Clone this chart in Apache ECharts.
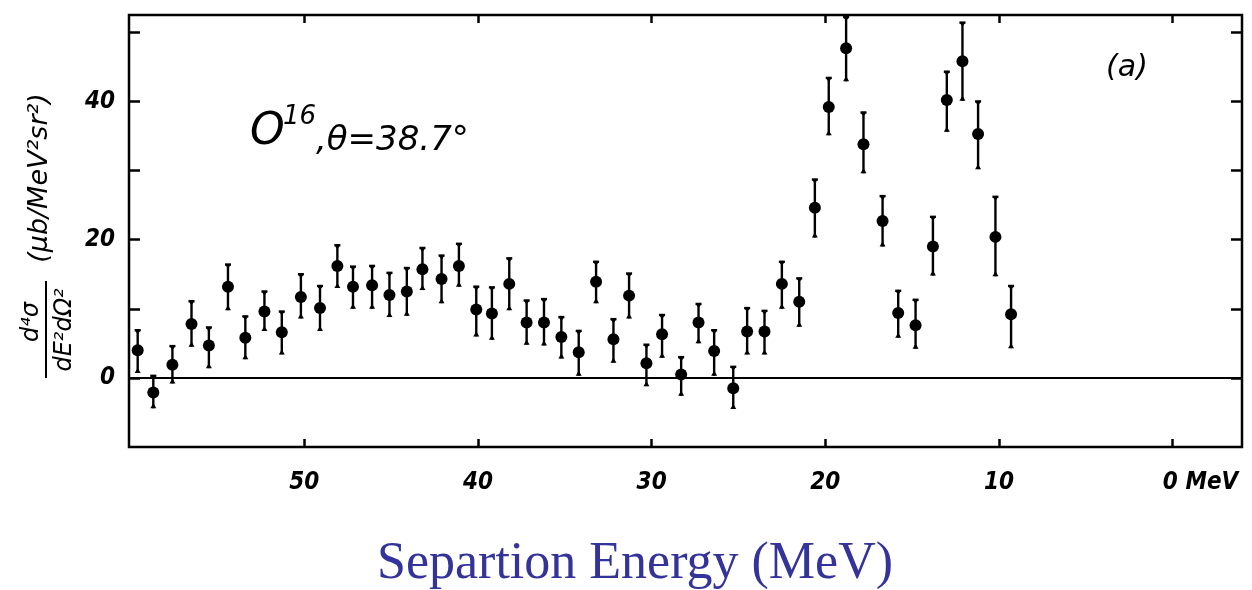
<!DOCTYPE html>
<html>
<head>
<meta charset="utf-8">
<title>O16 separation energy spectrum</title>
<script src="https://cdn.jsdelivr.net/npm/echarts@6/dist/echarts.min.js"></script>
<style>
  html, body { margin: 0; padding: 0; background: #fff; }
  #chart { width: 1252px; height: 590px; }
</style>
</head>
<body>
<div id="chart"></div>
<script>
// Separation energy (MeV) of each measured bin
const energy = [
  59.6, 58.7, 57.6, 56.5, 55.5, 54.4, 53.4, 52.3, 51.3, 50.2,
  49.1, 48.1, 47.2, 46.1, 45.1, 44.1, 43.2, 42.1, 41.1, 40.1,
  39.2, 38.2, 37.2, 36.2, 35.2, 34.2, 33.2, 32.2, 31.3, 30.3,
  29.4, 28.3, 27.3, 26.4, 25.3, 24.5, 23.5, 22.5, 21.5, 20.6,
  19.8, 18.8, 17.8, 16.7, 15.8, 14.8, 13.8, 13.0, 12.1, 11.2,
  10.2, 9.3
];
// d4sigma / dE2 dOmega2 in ub/(MeV2 sr2)
const crossSection = [
  4.0, -2.1, 1.9, 7.8, 4.7, 13.2, 5.8, 9.6, 6.6, 11.7,
  10.1, 16.2, 13.2, 13.4, 12.0, 12.5, 15.7, 14.3, 16.2, 9.9,
  9.3, 13.6, 8.0, 8.0, 5.9, 3.7, 13.9, 5.6, 11.9, 2.1,
  6.3, 0.5, 8.0, 3.9, -1.5, 6.7, 6.7, 13.6, 11.0, 24.6,
  39.2, 47.7, 33.8, 22.7, 9.4, 7.6, 19.0, 40.2, 45.8, 35.3,
  20.4, 9.2
];
// Upper end of each error bar
const errHigh = [
  6.9, 0.3, 4.6, 11.1, 7.3, 16.4, 8.9, 12.5, 9.6, 15.0,
  13.3, 19.2, 16.1, 16.2, 15.2, 15.9, 18.8, 17.7, 19.4, 13.2,
  13.1, 17.3, 11.2, 11.4, 8.8, 6.8, 16.8, 8.5, 15.1, 4.8,
  9.1, 3.0, 10.7, 6.9, 1.6, 10.1, 9.7, 16.8, 14.4, 28.7,
  43.4, 52.2, 38.4, 26.3, 12.6, 11.3, 23.3, 44.3, 51.4, 40.0,
  26.2, 13.3
];
// Lower end of each error bar
const errLow = [
  0.7, -4.4, -0.8, 4.5, 1.4, 9.8, 2.7, 6.8, 3.4, 8.6,
  6.8, 13.0, 10.0, 10.0, 8.8, 9.0, 12.7, 10.8, 13.2, 6.0,
  5.5, 9.8, 4.8, 4.7, 2.8, 0.3, 10.8, 2.2, 8.6, -1.2,
  2.9, -2.6, 5.0, 0.3, -4.5, 3.4, 3.4, 10.0, 7.4, 20.3,
  35.1, 42.9, 29.6, 19.0, 5.8, 4.2, 14.8, 35.6, 40.1, 30.2,
  14.7, 4.3
];

const xTicks = [0, 10, 20, 30, 40, 50];
const yTicks = [0, 10, 20, 30, 40, 50];
const yLabels = [0, 20, 40];

const points = energy.map((e, i) => [e, crossSection[i]]);
const bars = energy.map((e, i) => [e, errHigh[i], errLow[i]]);

const tickFont = {
  color: '#000',
  fontFamily: "'DejaVu Sans Condensed', 'DejaVu Sans', sans-serif",
  fontStyle: 'italic',
  fontWeight: 'bold',
  fontSize: 24
};
const handFont = "'DejaVu Sans', sans-serif";

const X_MIN = -4, X_MAX = 60.1, Y_MIN = -10, Y_MAX = 52.5;
const tickLine = { color: '#000', width: 2.5 };

const chart = echarts.init(document.getElementById('chart'), null, { renderer: 'canvas' });

chart.setOption({
  backgroundColor: '#fff',
  animation: false,
  grid: {
    left: 129, right: 10, top: 15, bottom: 143,
    show: true, borderColor: '#000', borderWidth: 2.5, backgroundColor: 'transparent'
  },
  xAxis: [
    {
      type: 'value', position: 'bottom', inverse: true, min: X_MIN, max: X_MAX,
      axisLine: { show: false, onZero: false },
      splitLine: { show: false },
      axisTick: { show: true, inside: true, length: 8, customValues: xTicks, lineStyle: tickLine },
      axisLabel: {
        show: true, margin: 24, customValues: xTicks, ...tickFont,
        formatter: v => (v === 0 ? '{pad|}0 MeV' : String(v)),
        rich: { pad: { width: 56 } }
      }
    },
    {
      type: 'value', position: 'top', inverse: true, min: X_MIN, max: X_MAX,
      axisLine: { show: false, onZero: false },
      splitLine: { show: false },
      axisTick: { show: true, inside: true, length: 8, customValues: xTicks, lineStyle: tickLine },
      axisLabel: { show: false }
    }
  ],
  yAxis: [
    {
      type: 'value', position: 'left', min: Y_MIN, max: Y_MAX,
      axisLine: { show: false, onZero: false },
      splitLine: { show: false },
      axisTick: { show: true, inside: true, length: 11, customValues: yTicks, lineStyle: tickLine },
      axisLabel: { show: true, margin: 14, customValues: yLabels, ...tickFont }
    },
    {
      type: 'value', position: 'right', min: Y_MIN, max: Y_MAX,
      axisLine: { show: false, onZero: false },
      splitLine: { show: false },
      axisTick: { show: true, inside: true, length: 11, customValues: yTicks, lineStyle: tickLine },
      axisLabel: { show: false }
    }
  ],
  series: [
    {
      // vertical error bars with small end caps
      type: 'custom',
      xAxisIndex: 0, yAxisIndex: 0,
      silent: true,
      data: bars,
      encode: { x: 0, y: [1, 2] },
      renderItem: function (params, api) {
        const x = api.value(0);
        const top = api.coord([x, api.value(1)]);
        const bot = api.coord([x, api.value(2)]);
        const cap = 3;
        const style = { stroke: '#000', lineWidth: 2.4 };
        return {
          type: 'group',
          children: [
            { type: 'line', shape: { x1: top[0], y1: top[1], x2: bot[0], y2: bot[1] }, style },
            { type: 'line', shape: { x1: top[0] - cap, y1: top[1], x2: top[0] + cap, y2: top[1] }, style },
            { type: 'polygon', shape: { points: [[top[0] - cap, top[1]], [top[0] + cap, top[1]], [top[0], top[1] + 4]] },
              style: { fill: '#000' } },
            { type: 'polygon', shape: { points: [[bot[0] - cap, bot[1]], [bot[0] + cap, bot[1]], [bot[0], bot[1] - 5]] },
              style: { fill: '#000' } }
          ]
        };
      }
    },
    {
      type: 'scatter',
      xAxisIndex: 0, yAxisIndex: 0,
      symbol: 'circle',
      symbolSize: 12,
      itemStyle: { color: '#000', opacity: 1 },
      silent: true,
      data: points,
      markLine: {
        silent: true,
        symbol: 'none',
        label: { show: false },
        lineStyle: { color: '#000', width: 2.2, type: 'solid', opacity: 1 },
        data: [{ yAxis: 0 }]
      }
    }
  ],
  graphic: [
    // y-axis quantity: d4sigma / dE2 dOmega2 (ub/MeV2 sr2), written bottom to top
    { type: 'text', x: 32, y: 322, rotation: Math.PI / 2,
      style: { text: 'd⁴σ', font: 'italic 24px ' + handFont, fill: '#000',
               align: 'center', verticalAlign: 'middle' } },
    { type: 'line', shape: { x1: 46, y1: 281, x2: 46, y2: 378 },
      style: { stroke: '#000', lineWidth: 2 } },
    { type: 'text', x: 65, y: 330, rotation: Math.PI / 2,
      style: { text: 'dE²dΩ²', font: 'italic 24px ' + handFont, fill: '#000',
               align: 'center', verticalAlign: 'middle' } },
    { type: 'text', x: 40, y: 178, rotation: Math.PI / 2,
      style: { text: '(μb/MeV²sr²)', font: 'italic 27px ' + handFont, fill: '#000',
               align: 'center', verticalAlign: 'middle' } },
    // target and scattering angle
    { type: 'text', x: 250, y: 155,
      style: { text: 'O', font: 'italic 44px ' + handFont, fill: '#000',
               align: 'left', verticalAlign: 'bottom' } },
    { type: 'text', x: 283, y: 130,
      style: { text: '16', font: 'italic 26px ' + handFont, fill: '#000',
               align: 'left', verticalAlign: 'bottom' } },
    { type: 'text', x: 316, y: 158,
      style: { text: ',θ=38.7°', font: 'italic 34px ' + handFont, fill: '#000',
               align: 'left', verticalAlign: 'bottom' } },
    { type: 'text', x: 1127, y: 68,
      style: { text: '(a)', font: 'italic 30px ' + handFont, fill: '#000',
               align: 'center', verticalAlign: 'middle' } },
    // horizontal axis title
    { type: 'text', x: 635, y: 564,
      style: { text: 'Separtion Energy (MeV)', font: '52px "Liberation Serif", serif', fill: '#33339a',
               align: 'center', verticalAlign: 'middle' } }
  ]
});
</script>
</body>
</html>
